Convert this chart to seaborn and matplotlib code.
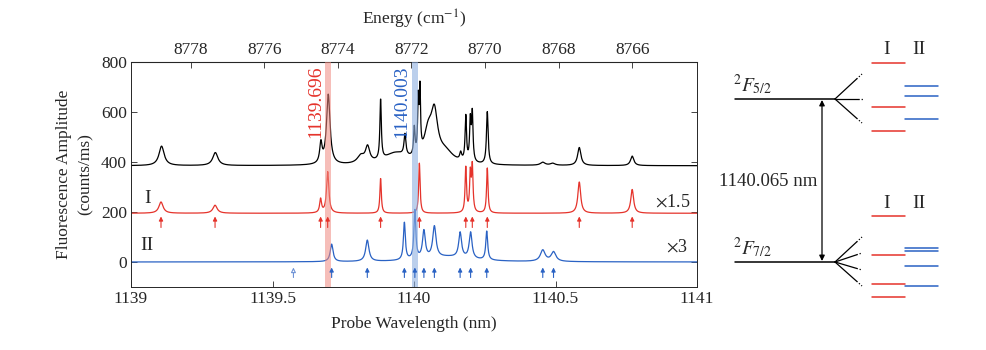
import numpy as np
import pandas as pd
import seaborn as sns
import matplotlib.pyplot as plt

# ---- data ----
# peaks: (centre nm, height, fwhm nm)
black_base = 385
black_peaks = [
    (1139.108, 78, 0.022), (1139.298, 52, 0.022), (1139.671, 80, 0.010),
    (1139.697, 280, 0.015), (1139.812, 30, 0.030), (1139.836, 62, 0.018),
    (1139.882, 240, 0.006), (1139.935, 45, 0.100), (1139.968, 85, 0.008),
    (1140.001, 110, 0.006), (1140.015, 210, 0.005), (1140.021, 245, 0.005),
    (1140.050, 110, 0.035), (1140.072, 175, 0.028), (1140.110, 45, 0.070),
    (1140.165, 30, 0.008), (1140.183, 180, 0.006), (1140.199, 160, 0.006),
    (1140.206, 190, 0.006), (1140.259, 210, 0.007), (1140.455, 12, 0.020),
    (1140.490, 8, 0.020), (1140.584, 72, 0.014), (1140.771, 38, 0.014),
]
red_base = 195
red_peaks = [
    (1139.106, 45, 0.018), (1139.297, 32, 0.018), (1139.670, 55, 0.008),
    (1139.695, 165, 0.010), (1139.882, 140, 0.006), (1140.019, 200, 0.006),
    (1140.183, 180, 0.006), (1140.199, 150, 0.006), (1140.206, 180, 0.006),
    (1140.259, 180, 0.006), (1140.584, 125, 0.012), (1140.771, 95, 0.012),
]
blue_base = 0
blue_peaks = [
    (1139.709, 70, 0.012), (1139.835, 85, 0.014), (1139.966, 150, 0.008),
    (1140.003, 195, 0.008), (1140.035, 110, 0.012), (1140.072, 125, 0.014),
    (1140.120, 20, 0.200), (1140.163, 100, 0.012), (1140.200, 105, 0.012),
    (1140.257, 115, 0.008), (1140.455, 45, 0.020), (1140.493, 38, 0.020),
]
red_arrows = [1139.106, 1139.297, 1139.670, 1139.695, 1139.882, 1140.019,
              1140.183, 1140.206, 1140.259, 1140.584, 1140.771]
blue_arrows = [1139.709, 1139.835, 1139.966, 1140.003, 1140.035, 1140.072,
               1140.163, 1140.200, 1140.257, 1140.455, 1140.493]
blue_open_arrow = 1139.574
marked = {'1139.696': 1139.696, '1140.003': 1140.003}
energy_ticks = [8778, 8776, 8774, 8772, 8770, 8768, 8766]

# level diagram (schematic, pixel units of the figure)
upper_I = [63, 107, 131]
upper_II = [86, 96, 119]
lower_I = [216, 255, 284, 297]
lower_II = [248, 251, 266, 286]

RED = '#e5332b'
BLUE = '#2a62c4'
FS = 12.5

sns.set_style('ticks')
plt.rcParams['font.family'] = ['Liberation Serif', 'DejaVu Serif']
plt.rcParams['mathtext.fontset'] = 'stix'
plt.rcParams['font.size'] = FS


def spectrum(x, base, peaks):
    y = np.full_like(x, base, dtype=float)
    for c, h, w in peaks:
        g = w / 2
        y += h * g**2 / ((x - c)**2 + g**2)
    return y


wl = np.linspace(1139, 1141, 3000)
df = pd.concat([
    pd.DataFrame({'wl': wl, 'amp': spectrum(wl, black_base, black_peaks), 'trace': 'all'}),
    pd.DataFrame({'wl': wl, 'amp': spectrum(wl, red_base, red_peaks), 'trace': 'I'}),
    pd.DataFrame({'wl': wl, 'amp': spectrum(wl, blue_base, blue_peaks), 'trace': 'II'}),
])

fig = plt.figure(figsize=(9.86, 3.5), dpi=100)
ax = fig.add_axes([131/986, 1 - 287/350, 566/986, 225/350])

sns.lineplot(data=df, x='wl', y='amp', hue='trace', palette={'all': 'black', 'I': RED, 'II': BLUE},
             legend=False, lw=0.9, ax=ax, estimator=None)

ax.axvspan(marked['1139.696'] - 0.01, marked['1139.696'] + 0.01, color='#f08a80', alpha=0.55, lw=0, zorder=3)
ax.axvspan(marked['1140.003'] - 0.01, marked['1140.003'] + 0.01, color='#8fb0e0', alpha=0.6, lw=0, zorder=3)
ax.text(marked['1139.696'] - 0.045, 785, '1139.696', color=RED, rotation=90, ha='center', va='top', fontsize=14)
ax.text(marked['1140.003'] - 0.045, 785, '1140.003', color=BLUE, rotation=90, ha='center', va='top', fontsize=14)

for x in red_arrows:
    ax.annotate('', xy=(x, 182), xytext=(x, 138),
                arrowprops=dict(arrowstyle='-|>', color=RED, lw=0.8, mutation_scale=6, shrinkA=0, shrinkB=0))
for x in blue_arrows:
    ax.annotate('', xy=(x, -22), xytext=(x, -62),
                arrowprops=dict(arrowstyle='-|>', color=BLUE, lw=0.8, mutation_scale=6, shrinkA=0, shrinkB=0))
ax.annotate('', xy=(blue_open_arrow, -22), xytext=(blue_open_arrow, -62),
            arrowprops=dict(arrowstyle='-|>', fc='white', ec='#6f93d6', lw=0.8, mutation_scale=7, shrinkA=0, shrinkB=0))

ax.text(1139.057, 255, 'I', fontsize=14, ha='center', va='center')
ax.text(1139.057, 65, 'II', fontsize=14, ha='center', va='center')
ax.text(1140.915, 240, r'$\times$1.5', fontsize=13, ha='center', va='center')
ax.text(1140.93, 60, r'$\times$3', fontsize=13, ha='center', va='center')

ax.set_xlim(1139, 1141)
ax.set_ylim(-100, 800)
ax.set_xticks([1139, 1139.5, 1140, 1140.5, 1141])
ax.set_xticklabels(['1139', '1139.5', '1140', '1140.5', '1141'])
ax.set_yticks([0, 200, 400, 600, 800])
ax.tick_params(direction='in', top=False, right=True, length=4, width=0.6, labelsize=FS, pad=3)
for s in ax.spines.values():
    s.set_linewidth(0.7)
ax.set_xlabel('Probe Wavelength (nm)', fontsize=FS, labelpad=6)
ax.set_ylabel('Fluorescence Amplitude\n(counts/ms)', fontsize=FS, labelpad=5, linespacing=1.45)

top = ax.secondary_xaxis('top', functions=(lambda x: 1e7 / x, lambda x: 1e7 / x))
top.set_xticks(energy_ticks)
top.tick_params(direction='in', length=4, width=0.6, labelsize=FS, pad=3)
top.set_xlabel('Energy (cm$^{-1}$)', fontsize=FS, labelpad=12)

# ---- energy level diagram ----
dg = fig.add_axes([0, 0, 1, 1])
dg.set_xlim(0, 986)
dg.set_ylim(350, 0)
dg.axis('off')

for ylev, ends, lab in [(99, [74, 99, 123], r'$^2F_{5/2}$'), (262, [237, 253, 270, 286], r'$^2F_{7/2}$')]:
    dg.plot([735, 835], [ylev, ylev], color='black', lw=1.1)
    dg.text(733, ylev - 2, lab, fontsize=14, ha='left', va='bottom')
    for ye in ends:
        xe = 864 if ye == ylev else 862
        xm = 835 + 0.8 * (xe - 835)
        ym = ylev + 0.8 * (ye - ylev)
        dg.plot([835, xm], [ylev, ym], color='black', lw=0.9)
        dg.plot([xm, xe], [ym, ye], color='black', lw=0.9, ls=(0, (1, 1.5)))
dg.annotate('', xy=(822, 100), xytext=(822, 261),
            arrowprops=dict(arrowstyle='<|-|>', color='black', lw=0.9, mutation_scale=8, shrinkA=0, shrinkB=0))
dg.text(768, 182, '1140.065 nm', fontsize=13.5, ha='center', va='center')

for ys, col, x0, x1 in [(upper_I, RED, 872, 905), (lower_I, RED, 872, 905),
                        (upper_II, BLUE, 905, 938), (lower_II, BLUE, 905, 938)]:
    for y in ys:
        dg.plot([x0, x1], [y, y], color=col, lw=1.1)
for yl in [50, 204]:
    dg.text(887, yl, 'I', fontsize=14, ha='center', va='center')
    dg.text(919, yl, 'II', fontsize=14, ha='center', va='center')

fig.savefig('out.png', dpi=100)
plt.close(fig)
